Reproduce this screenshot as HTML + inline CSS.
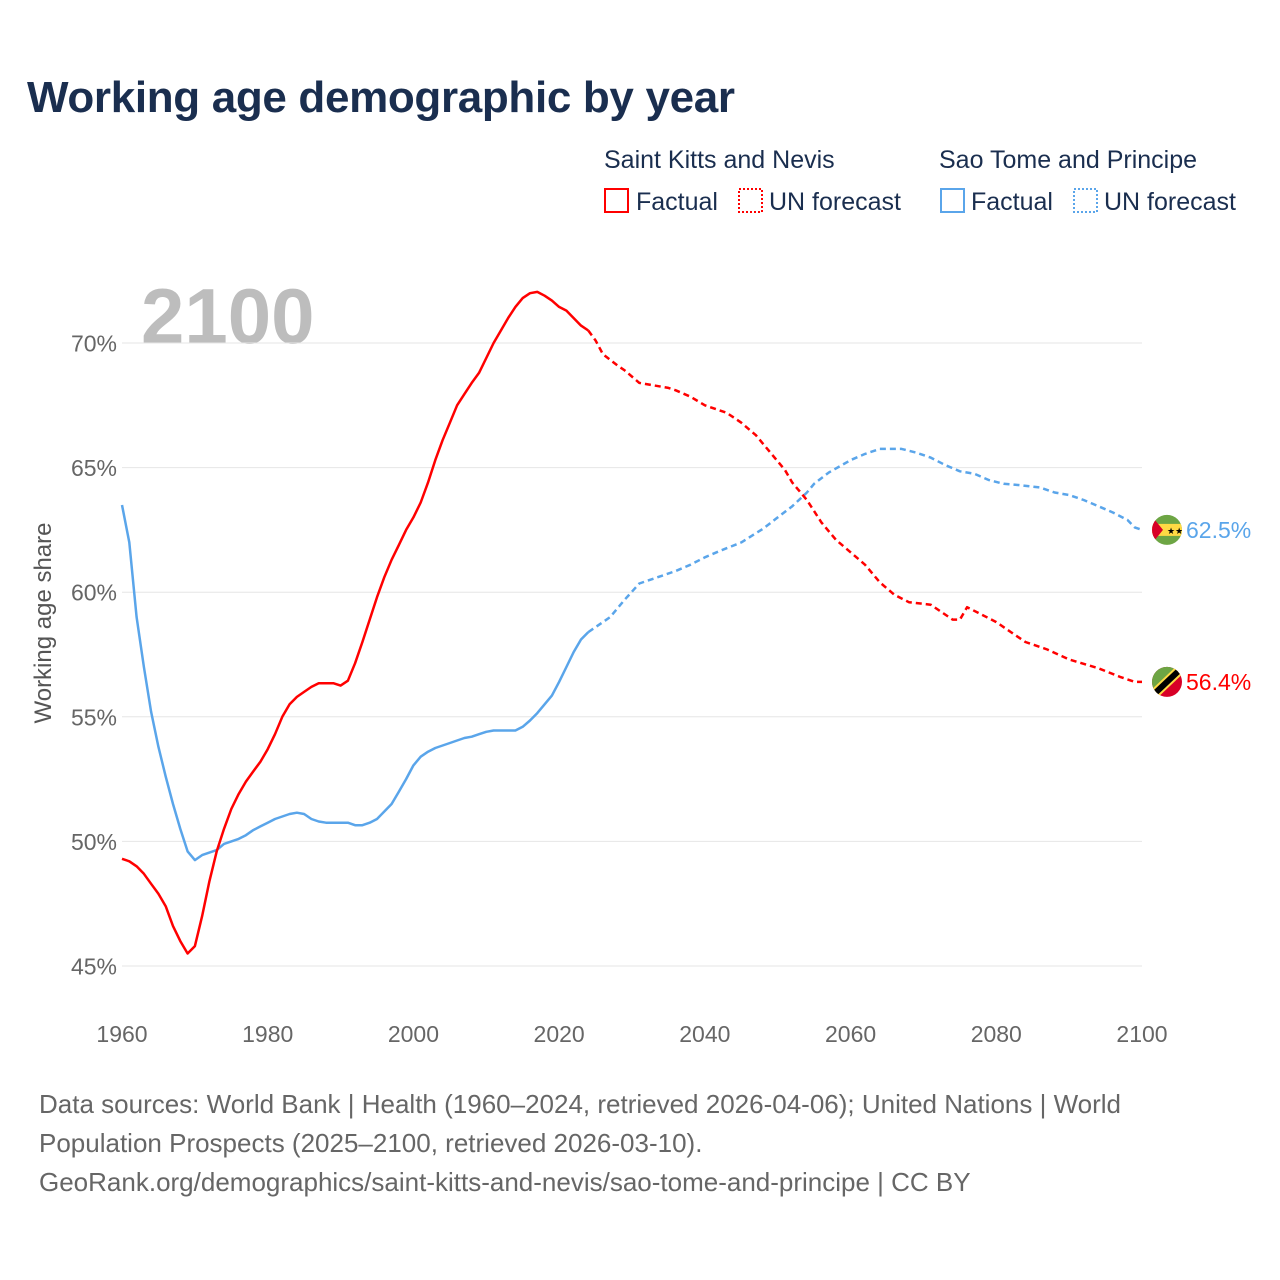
<!DOCTYPE html>
<html><head><meta charset="utf-8"><style>
body{margin:0;background:#fff;}
svg{display:block;font-family:"Liberation Sans",sans-serif;}
</style></head><body>
<svg id="chart" width="1280" height="1280" viewBox="0 0 1280 1280">
<text x="27" y="112" font-size="44" font-weight="bold" fill="#1a2e4f" textLength="708">Working age demographic by year</text>
<g font-size="25" fill="#1a2e4f">
<text x="604" y="168">Saint Kitts and Nevis</text>
<text x="939" y="168">Sao Tome and Principe</text>
<g><rect x="605" y="189" width="23" height="23" fill="none" stroke="#f00" stroke-width="2"/><text x="636" y="210">Factual</text></g>
<g><rect x="739" y="189" width="23" height="23" fill="none" stroke="#f00" stroke-width="2" stroke-dasharray="2,2"/><text x="769" y="210">UN forecast</text></g>
<g><rect x="941" y="189" width="23" height="23" fill="none" stroke="#5aa5ea" stroke-width="2"/><text x="971" y="210">Factual</text></g>
<g><rect x="1074" y="189" width="23" height="23" fill="none" stroke="#5aa5ea" stroke-width="2" stroke-dasharray="2,2"/><text x="1104" y="210">UN forecast</text></g>
</g>
<text x="141" y="343" font-size="78" font-weight="bold" fill="#bdbdbd">2100</text>
<g id="grid"></g><g id="xt"></g><g id="yt"></g><g id="lines"></g><g id="ends"></g>
<text transform="translate(51,623) rotate(-90)" text-anchor="middle" font-size="24" fill="#555">Working age share</text>
<g font-size="26" fill="#666">
<text x="39" y="1113">Data sources: World Bank | Health (1960–2024, retrieved 2026-04-06); United Nations | World</text>
<text x="39" y="1152">Population Prospects (2025–2100, retrieved 2026-03-10).</text>
<text x="39" y="1191">GeoRank.org/demographics/saint-kitts-and-nevis/sao-tome-and-principe | CC BY</text>
</g>
</svg>
<script>
const xTicks=[1960,1980,2000,2020,2040,2060,2080,2100];
const yTicks=[45,50,55,60,65,70];
const sknFactYears=[1960,1961,1962,1963,1964,1965,1966,1967,1968,1969,1970,1971,1972,1973,1974,1975,1976,1977,1978,1979,1980,1981,1982,1983,1984,1985,1986,1987,1988,1989,1990,1991,1992,1993,1994,1995,1996,1997,1998,1999,2000,2001,2002,2003,2004,2005,2006,2007,2008,2009,2010,2011,2012,2013,2014,2015,2016,2017,2018,2019,2020,2021,2022,2023,2024];
const sknFactVals=[49.3,49.2,49.0,48.7,48.3,47.9,47.4,46.6,46.0,45.5,45.8,47.0,48.4,49.6,50.5,51.3,51.9,52.4,52.8,53.2,53.7,54.3,55.0,55.5,55.8,56.0,56.2,56.35,56.35,56.35,56.25,56.45,57.15,58.0,58.9,59.8,60.6,61.3,61.9,62.5,63.0,63.6,64.4,65.3,66.1,66.8,67.5,67.95,68.4,68.8,69.4,70.0,70.5,71.0,71.45,71.8,72.0,72.05,71.9,71.7,71.45,71.3,71.0,70.7,70.5];
const sknFcYears=[2024,2025,2026,2028,2029,2031,2033,2035,2036,2038,2040,2041,2043,2045,2047,2049,2051,2052,2054,2056,2058,2060,2062,2064,2066,2068,2071,2074,2075,2076,2078,2080,2082,2084,2087,2090,2094,2097,2099,2100];
const sknFcVals=[70.5,70.1,69.55,69.1,68.9,68.4,68.3,68.2,68.1,67.85,67.5,67.4,67.2,66.8,66.3,65.6,64.9,64.4,63.7,62.8,62.1,61.6,61.1,60.4,59.9,59.6,59.5,58.9,58.9,59.4,59.1,58.8,58.4,58.0,57.7,57.3,56.95,56.6,56.4,56.4];
const stpFactYears=sknFactYears;
const stpFactVals=[63.5,62.0,59.0,57.0,55.2,53.8,52.6,51.5,50.5,49.6,49.25,49.45,49.55,49.65,49.9,50.0,50.1,50.25,50.45,50.6,50.75,50.9,51.0,51.1,51.15,51.1,50.9,50.8,50.75,50.75,50.75,50.75,50.65,50.65,50.75,50.9,51.2,51.5,52.0,52.5,53.05,53.4,53.6,53.75,53.85,53.95,54.05,54.15,54.2,54.3,54.4,54.45,54.45,54.45,54.45,54.6,54.85,55.15,55.5,55.85,56.4,57.0,57.6,58.1,58.4];
const stpFcYears=[2024,2026,2027,2029,2031,2033,2036,2038,2040,2042,2045,2048,2050,2052,2054,2055,2057,2060,2062,2064,2067,2069,2071,2073,2075,2077,2079,2081,2083,2086,2088,2090,2092,2094,2096,2098,2099,2100];
const stpFcVals=[58.4,58.8,59.0,59.7,60.35,60.55,60.85,61.1,61.4,61.65,62.0,62.55,63.0,63.45,64.0,64.35,64.8,65.3,65.55,65.75,65.75,65.6,65.4,65.1,64.85,64.75,64.5,64.35,64.3,64.2,64.0,63.9,63.7,63.45,63.2,62.9,62.6,62.5];
const NS='http://www.w3.org/2000/svg';
const X=y=>122+(y-1960)*(1020/140);
const Y=v=>966-(v-45)*(623/25);
function mk(tag,attrs,parent){const e=document.createElementNS(NS,tag);for(const k in attrs)e.setAttribute(k,attrs[k]);document.getElementById(parent).appendChild(e);return e;}
yTicks.forEach(t=>{
  const l=mk('line',{x1:122,x2:1142,y1:Y(t),y2:Y(t),stroke:'#e6e6e6','stroke-width':1},'grid');
  
  
  const tx=mk('text',{x:117,y:Y(t)+8.5,'text-anchor':'end','font-size':23,fill:'#666'},'yt');
  tx.textContent=t+'%';
  
  
});
xTicks.forEach(t=>{
  const tx=mk('text',{x:X(t),y:1042,'text-anchor':'middle','font-size':23,fill:'#666'},'xt');
  tx.textContent=t;
  
  
});
function line(ys,vs,color,dash,name){
  const d=ys.map((y,i)=>(i?'L':'M')+X(y).toFixed(1)+','+Y(vs[i]).toFixed(1)).join('');
  const p=mk('path',{d:d,fill:'none',stroke:color,'stroke-width':2.5,'stroke-linejoin':'round'},'lines');
  if(dash)p.setAttribute('stroke-dasharray','6,4');
  
  
}
line(stpFactYears,stpFactVals,'#5aa5ea',false,'stp-factual-line');
line(stpFcYears,stpFcVals,'#5aa5ea',true,'stp-forecast-line');
line(sknFactYears,sknFactVals,'#ff0000',false,'skn-factual-line');
line(sknFcYears,sknFcVals,'#ff0000',true,'skn-forecast-line');
const stpEnd=stpFcVals[stpFcVals.length-1], sknEnd=sknFcVals[sknFcVals.length-1];
const ends=document.getElementById('ends');
ends.innerHTML=`
<defs><clipPath id="c1"><circle cx="1167" cy="${Y(stpEnd)}" r="15"/></clipPath><clipPath id="c2"><circle cx="1167" cy="${Y(sknEnd)}" r="15"/></clipPath></defs>
<g clip-path="url(#c1)"><rect x="1150" y="${Y(stpEnd)-16}" width="34" height="32" fill="#6da544"/><rect x="1150" y="${Y(stpEnd)-6}" width="34" height="12" fill="#ffda44"/><polygon points="1150,${Y(stpEnd)-16} 1163,${Y(stpEnd)} 1150,${Y(stpEnd)+16}" fill="#d80027"/><text x="1167" y="${Y(stpEnd)+4}" font-size="9" fill="#000">★★</text></g>
<g clip-path="url(#c2)"><rect x="1150" y="${Y(sknEnd)-16}" width="34" height="32" fill="#d80027"/><polygon points="1150,${Y(sknEnd)-16} 1184,${Y(sknEnd)-16} 1150,${Y(sknEnd)+18}" fill="#6da544"/><line x1="1150" y1="${Y(sknEnd)+16}" x2="1184" y2="${Y(sknEnd)-16}" stroke="#ffda44" stroke-width="10"/><line x1="1150" y1="${Y(sknEnd)+16}" x2="1184" y2="${Y(sknEnd)-16}" stroke="#000" stroke-width="6"/></g>
<text x="1186" y="${Y(stpEnd)+8}" font-size="23" fill="#5aa5ea">${stpEnd.toFixed(1)}%</text>
<text x="1186" y="${Y(sknEnd)+8}" font-size="23" fill="#ff0000">${sknEnd.toFixed(1)}%</text>`;


</script>
</body></html>
